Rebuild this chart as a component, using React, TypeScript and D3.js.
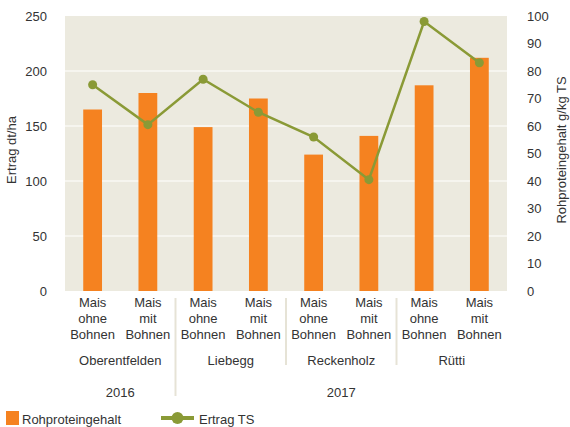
import React from "react";
import * as d3 from "d3";

const categories = ["c1", "c2", "c3", "c4", "c5", "c6", "c7", "c8"];
const catLabels = [
  ["Mais", "ohne", "Bohnen"],
  ["Mais", "mit", "Bohnen"],
  ["Mais", "ohne", "Bohnen"],
  ["Mais", "mit", "Bohnen"],
  ["Mais", "ohne", "Bohnen"],
  ["Mais", "mit", "Bohnen"],
  ["Mais", "ohne", "Bohnen"],
  ["Mais", "mit", "Bohnen"],
];
const locations = ["Oberentfelden", "Liebegg", "Reckenholz", "Rütti"];
const years = ["2016", "2017"];
const yearSpans = [[0, 2], [2, 8]];
const barValues = [165, 180, 149, 175, 124, 141, 187, 212];
const lineValues = [75, 60.5, 77, 65, 56, 40.5, 98, 83];
const leftTicks = [0, 50, 100, 150, 200, 250];
const rightTicks = [0, 10, 20, 30, 40, 50, 60, 70, 80, 90, 100];

const W = 570, H = 427;
const M = { left: 65, right: 507, top: 16, bottom: 291 };
const ORANGE = "#F58220";
const GREEN = "#8A9A36";
const BG = "#ECEADF";
const TXT = "#333333";
const FONT = "'Liberation Sans', Arial, Helvetica, sans-serif";

export default function App() {
  const x = d3.scaleBand().domain(categories).range([M.left, M.right]).paddingInner(0.66).paddingOuter(0.33);
  const yL = d3.scaleLinear().domain([0, 250]).range([M.bottom, M.top]);
  const yR = d3.scaleLinear().domain([0, 100]).range([M.bottom, M.top]);
  const cx = (i: number) => (x(categories[i]) as number) + x.bandwidth() / 2;
  const line = d3.line<number>().x((_, i) => cx(i)).y((d) => yR(d));
  const bandLeft = (i: number) => M.left + ((M.right - M.left) / categories.length) * i;

  return (
    <svg width={W} height={H} style={{ position: "absolute", left: 0, top: 0, fontFamily: FONT }}>
      <rect x={M.left} y={M.top} width={M.right - M.left} height={M.bottom - M.top} fill={BG} />
      {leftTicks.filter((t) => t > 0 && t < 250).map((t) => (
        <line key={t} x1={M.left} x2={M.right} y1={yL(t)} y2={yL(t)} stroke="#fff" strokeWidth={1.2} />
      ))}
      {barValues.map((v, i) => (
        <rect key={i} x={x(categories[i])} y={yL(v)} width={x.bandwidth()} height={yL(0) - yL(v)} fill={ORANGE} />
      ))}
      <path d={line(lineValues) || ""} fill="none" stroke={GREEN} strokeWidth={2.5} />
      {lineValues.map((v, i) => (
        <circle key={i} cx={cx(i)} cy={yR(v)} r={4.5} fill={GREEN} />
      ))}
      {leftTicks.map((t) => (
        <text key={t} x={47} y={yL(t)} dy="0.35em" textAnchor="end" fontSize={13} fill={TXT}>{t}</text>
      ))}
      {rightTicks.map((t) => (
        <text key={t} x={527} y={yR(t)} dy="0.35em" textAnchor="start" fontSize={13} fill={TXT}>{t}</text>
      ))}
      <text transform={`translate(16,150) rotate(-90)`} textAnchor="middle" fontSize={13} fill={TXT}>Ertrag dt/ha</text>
      <text transform={`translate(566,150) rotate(-90)`} textAnchor="middle" fontSize={13} fill={TXT}>Rohproteingehalt g/kg TS</text>
      {catLabels.map((lines, i) => (
        <text key={i} textAnchor="middle" fontSize={13} fill={TXT}>
          {lines.map((l, j) => (
            <tspan key={j} x={cx(i)} y={307 + j * 16}>{l}</tspan>
          ))}
        </text>
      ))}
      {locations.map((l, k) => (
        <text key={l} x={(bandLeft(2 * k) + bandLeft(2 * k + 2)) / 2} y={365} textAnchor="middle" fontSize={13} fill={TXT}>{l}</text>
      ))}
      {[2, 4, 6].map((b) => (
        <line key={b} x1={bandLeft(b)} x2={bandLeft(b)} y1={298} y2={b === 2 ? 396 : 365} stroke="#E6E3D6" strokeWidth={2} />
      ))}
      {years.map((yv, k) => (
        <text key={yv} x={(bandLeft(yearSpans[k][0]) + bandLeft(yearSpans[k][1])) / 2} y={397} textAnchor="middle" fontSize={13} fill={TXT}>{yv}</text>
      ))}
      <rect x={6} y={411} width={13} height={14} fill={ORANGE} />
      <text x={22} y={424} fontSize={13} fill={TXT}>Rohproteingehalt</text>
      <line x1={161} x2={194} y1={418} y2={418} stroke={GREEN} strokeWidth={4} />
      <circle cx={177.5} cy={418} r={6} fill={GREEN} />
      <text x={199} y={424} fontSize={13} fill={TXT}>Ertrag TS</text>
    </svg>
  );
}
